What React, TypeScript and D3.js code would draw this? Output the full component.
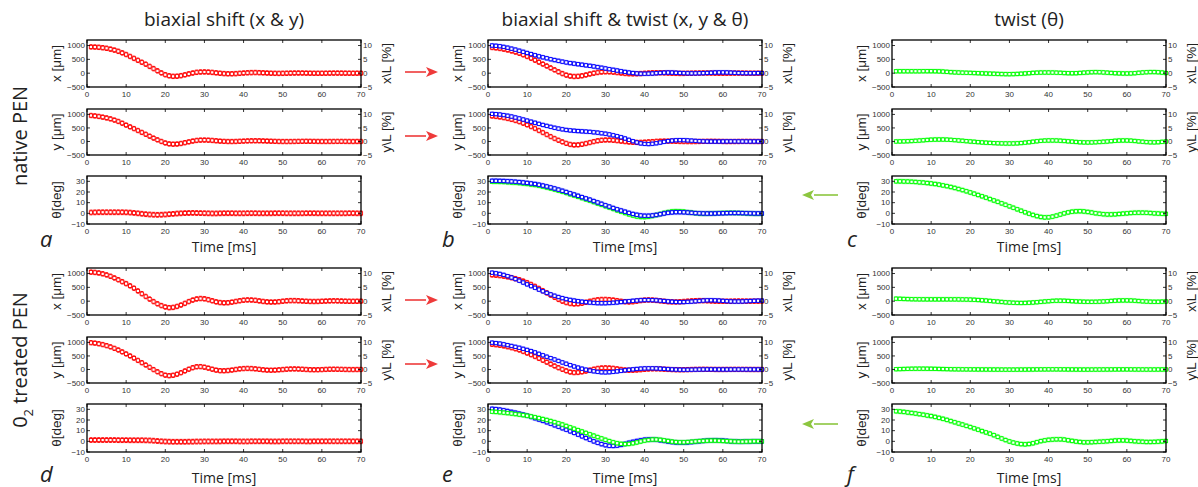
import React, { useEffect, useRef } from "react";
import * as d3 from "d3";

// sampling: one point per ms
const time = d3.range(1, 71);

// a: native PEN, biaxial shift
const aX = [950, 945, 935, 920, 900, 870, 835, 790, 735, 675, 605, 535, 465, 395, 325, 245, 165, 85, 10, -55, -95, -115, -110, -90, -60, -25, 5, 30, 42, 45, 40, 28, 12, -3, -15, -22, -22, -16, -6, 5, 14, 20, 22, 18, 12, 5, -2, -6, -8, -6, -2, 2, 5, 6, 5, 2, -1, -3, -4, -3, -1, 1, 3, 3, 2, 0, -1, -2, -1, 0];
const aY = [960, 945, 925, 900, 870, 835, 790, 740, 675, 605, 540, 475, 405, 335, 265, 195, 125, 60, 0, -55, -90, -100, -95, -75, -45, -15, 15, 38, 50, 52, 48, 38, 25, 12, 3, -2, -3, 0, 6, 14, 20, 24, 25, 24, 20, 15, 9, 4, 0, -2, -3, -2, 0, 3, 5, 6, 5, 3, 1, 0, -1, 0, 1, 2, 2, 1, 0, -1, 0, 0];
const aT = [0.8, 0.9, 1, 1, 1, 1, 1, 1, 1, 0.9, 0.7, 0.4, 0, -0.4, -0.8, -1.1, -1.3, -1.4, -1.3, -1.1, -0.8, -0.5, -0.2, 0, 0.2, 0.3, 0.4, 0.3, 0.2, 0.1, 0, -0.1, -0.1, 0, 0.1, 0.1, 0.1, 0, 0, 0, 0.1, 0.1, 0.1, 0, 0, 0, 0, 0.1, 0.1, 0.1, 0, 0, 0, 0, 0, 0.1, 0.1, 0.1, 0, 0, 0, 0, 0, 0, 0, 0, 0.1, 0.1, 0, 0];

// b: native PEN, shift & twist
const bXr = [930, 915, 895, 870, 840, 805, 765, 720, 665, 605, 540, 470, 400, 330, 260, 190, 120, 50, -15, -70, -105, -120, -115, -95, -65, -30, 0, 25, 42, 50, 48, 38, 22, 5, -10, -20, -24, -22, -15, -5, 5, 12, 15, 14, 10, 4, -2, -6, -8, -7, -4, 0, 4, 6, 7, 6, 3, 0, -2, -3, -2, 0, 2, 3, 2, 1, 0, -1, -1, 0];
const bXb = [1000, 990, 975, 950, 920, 885, 850, 810, 770, 730, 690, 650, 610, 575, 540, 505, 475, 445, 415, 390, 365, 345, 325, 305, 285, 265, 245, 220, 195, 170, 145, 120, 95, 70, 45, 22, 5, -10, -18, -20, -17, -10, 0, 10, 18, 22, 20, 14, 6, 0, -4, -6, -5, -2, 2, 8, 15, 22, 26, 27, 24, 18, 12, 6, 2, 0, -1, 0, 2, 3];
const bYr = [940, 925, 905, 880, 850, 815, 775, 730, 675, 615, 550, 480, 405, 330, 255, 180, 110, 45, -15, -70, -110, -130, -125, -105, -75, -40, -5, 25, 45, 55, 55, 45, 30, 12, -5, -20, -30, -35, -33, -25, -15, -5, 5, 12, 15, 14, 10, 5, 0, -3, -5, -5, -3, 0, 3, 5, 6, 5, 3, 0, -2, -3, -2, 0, 2, 2, 1, 0, -1, 0];
const bYb = [1020, 1010, 995, 975, 950, 920, 885, 850, 810, 770, 730, 690, 650, 610, 575, 540, 505, 475, 450, 425, 410, 395, 385, 375, 365, 355, 340, 325, 305, 285, 260, 230, 195, 155, 110, 60, 10, -35, -70, -90, -95, -85, -65, -40, -12, 12, 32, 45, 50, 48, 40, 30, 20, 10, 4, 0, -2, -3, -2, 0, 1, 2, 2, 1, 0, -1, -1, 0, 0, 0];
const bTg = [29.6, 29.6, 29.5, 29.4, 29.2, 29, 28.7, 28.4, 28, 27.6, 27.1, 26.6, 25.9, 25.1, 24.3, 23.4, 22.4, 21.3, 20.2, 19.1, 17.9, 16.7, 15.5, 14.3, 13.1, 11.9, 10.6, 9.3, 8, 6.7, 5.4, 4.1, 2.8, 1.5, 0.3, -0.9, -2, -2.9, -3.4, -3.5, -3.2, -2.5, -1.6, -0.6, 0.4, 1.2, 1.8, 2, 1.9, 1.6, 1.1, 0.6, 0.2, -0.1, -0.3, -0.3, -0.2, 0, 0.2, 0.3, 0.4, 0.4, 0.4, 0.3, 0.2, 0, -0.2, -0.3, -0.3, -0.3];
const bTb = [30.5, 30.5, 30.4, 30.3, 30.1, 29.9, 29.6, 29.3, 28.9, 28.5, 28, 27.5, 26.8, 26, 25.2, 24.3, 23.3, 22.2, 21.1, 20, 18.8, 17.6, 16.4, 15.2, 14, 12.8, 11.5, 10.2, 8.9, 7.6, 6.3, 5, 3.8, 2.6, 1.5, 0.4, -0.6, -1.4, -2, -2.3, -2.3, -2, -1.5, -0.8, -0.1, 0.5, 0.9, 1.1, 1.1, 1, 0.8, 0.5, 0.2, 0, -0.1, -0.2, -0.2, -0.1, 0, 0.1, 0.2, 0.3, 0.3, 0.3, 0.2, 0.1, 0, -0.1, -0.1, -0.1];

// c: native PEN, twist
const cX = [70, 70, 70, 70, 70, 70, 70, 72, 72, 72, 70, 66, 58, 48, 38, 30, 24, 18, 14, 10, 5, 0, -6, -12, -17, -22, -27, -31, -34, -35, -33, -28, -20, -10, 0, 10, 17, 22, 24, 24, 22, 18, 12, 5, 0, -2, 0, 8, 18, 28, 35, 38, 35, 28, 18, 8, 0, -6, -10, -11, -8, 0, 12, 25, 35, 40, 40, 35, 22, 5];
const cY = [0, 2, 5, 10, 16, 24, 34, 45, 56, 65, 70, 72, 72, 68, 60, 50, 38, 25, 12, 0, -12, -24, -35, -45, -53, -60, -66, -70, -73, -74, -73, -68, -58, -44, -28, -10, 8, 22, 32, 37, 38, 35, 28, 18, 6, -6, -18, -28, -34, -36, -34, -28, -20, -10, 0, 12, 24, 33, 37, 36, 30, 18, 4, -10, -22, -30, -32, -26, -14, 0];
const cT = [30, 30, 29.9, 29.8, 29.6, 29.4, 29.1, 28.8, 28.4, 28, 27.5, 26.9, 26.2, 25.5, 24.7, 23.8, 22.8, 21.8, 20.7, 19.6, 18.4, 17.2, 16, 14.7, 13.4, 12.1, 10.8, 9.4, 8, 6.6, 5.2, 3.8, 2.4, 1, -0.3, -1.5, -2.6, -3.4, -3.8, -3.7, -3.1, -2.2, -1.1, 0, 0.9, 1.5, 1.9, 2, 1.8, 1.3, 0.7, 0.1, -0.4, -0.8, -1, -1, -0.9, -0.6, -0.3, 0, 0.3, 0.5, 0.6, 0.6, 0.5, 0.3, 0, -0.2, -0.4, -0.5];

// d: O2 treated PEN, biaxial shift
const dX = [1050, 1040, 1020, 990, 950, 900, 840, 775, 705, 635, 555, 470, 370, 270, 170, 75, -15, -95, -160, -210, -235, -225, -190, -140, -80, -15, 40, 80, 95, 85, 55, 15, -25, -50, -60, -55, -35, -10, 15, 35, 45, 42, 30, 10, -10, -25, -32, -30, -18, -2, 12, 20, 20, 14, 5, -4, -10, -12, -10, -4, 3, 9, 12, 10, 5, 0, -4, -5, -3, 0];
const dY = [990, 975, 950, 920, 880, 835, 780, 720, 650, 575, 500, 420, 335, 250, 165, 80, -5, -85, -155, -210, -230, -215, -175, -120, -55, 10, 65, 100, 105, 85, 50, 10, -25, -45, -48, -40, -22, 0, 20, 33, 38, 34, 22, 5, -12, -24, -28, -24, -14, -2, 10, 18, 20, 16, 8, -1, -8, -11, -10, -5, 2, 8, 10, 8, 4, 0, -3, -4, -2, 0];
const dT = [1.2, 1.2, 1.2, 1.2, 1.2, 1.2, 1.2, 1.1, 1.1, 1.1, 1, 1, 1, 1, 0.9, 0.8, 0.6, 0.3, 0, -0.2, -0.3, -0.4, -0.4, -0.4, -0.4, -0.3, -0.3, -0.2, -0.2, -0.1, -0.1, -0.1, -0.1, -0.1, 0, 0, 0, 0, -0.1, -0.1, -0.1, 0, 0, 0, 0, 0, -0.1, -0.1, -0.1, 0, 0, 0, 0, 0, 0, -0.1, -0.1, 0, 0, 0, 0, 0, 0, 0, 0, 0, 0, 0, 0, 0];

// e: O2 treated PEN, shift & twist
const eXr = [950, 940, 925, 905, 880, 850, 815, 775, 725, 670, 605, 535, 460, 380, 300, 220, 140, 65, 0, -50, -85, -100, -95, -75, -40, -5, 25, 48, 60, 62, 55, 40, 18, -5, -22, -28, -20, 0, 22, 38, 44, 40, 28, 12, -5, -18, -26, -28, -22, -12, 0, 10, 17, 20, 18, 13, 6, 0, -4, -5, -3, 0, 3, 5, 4, 2, 0, -1, -1, 0];
const eXb = [1030, 1010, 985, 950, 905, 855, 800, 740, 675, 610, 545, 485, 420, 360, 300, 245, 195, 150, 110, 75, 45, 20, 0, -20, -35, -50, -62, -70, -73, -72, -66, -56, -44, -30, -15, -2, 12, 24, 34, 40, 42, 38, 30, 18, 5, -8, -20, -28, -32, -30, -24, -14, -2, 10, 22, 30, 32, 28, 20, 10, 0, -8, -12, -12, -8, -2, 5, 12, 16, 18];
const eYr = [930, 915, 895, 870, 840, 805, 765, 720, 665, 605, 545, 480, 410, 340, 270, 200, 130, 65, 5, -50, -95, -115, -110, -90, -60, -25, 10, 38, 55, 60, 55, 42, 22, 0, -18, -28, -28, -20, -8, 5, 16, 22, 22, 18, 10, 2, -5, -10, -12, -10, -6, -2, 2, 5, 6, 5, 3, 1, 0, 0, 1, 2, 3, 3, 2, 1, 0, -1, -1, 0];
const eYb = [990, 975, 955, 930, 900, 868, 835, 800, 762, 722, 680, 630, 578, 525, 470, 420, 370, 315, 260, 210, 160, 112, 68, 28, -8, -40, -66, -88, -102, -106, -100, -88, -70, -50, -30, -12, 4, 18, 30, 38, 42, 42, 38, 30, 20, 10, 2, -4, -8, -10, -9, -7, -4, -1, 1, 2, 2, 1, 0, -1, -1, 0, 1, 1, 1, 0, 0, 0, 0, 0];
const eTb = [30.5, 30.2, 29.7, 29.1, 28.4, 27.6, 26.8, 25.9, 25, 24, 22.9, 21.7, 20.5, 19.2, 17.9, 16.5, 15.1, 13.7, 12.3, 10.9, 9.4, 7.9, 6.3, 4.7, 3.1, 1.5, 0, -1.4, -2.6, -3.6, -4.2, -4.3, -4, -3.3, -2.4, -1.4, -0.5, 0.3, 1, 1.5, 1.8, 1.8, 1.5, 1, 0.4, -0.2, -0.7, -1, -1.2, -1.2, -1, -0.7, -0.3, 0.1, 0.4, 0.7, 0.9, 1, 0.9, 0.7, 0.4, 0.1, -0.2, -0.3, -0.3, -0.2, -0.1, 0, 0, 0];
const eTg = [27.8, 27.6, 27.3, 26.9, 26.5, 26.1, 25.6, 25.1, 24.6, 24, 23.3, 22.6, 21.8, 20.9, 20, 19, 18, 16.9, 15.7, 14.4, 13.1, 11.8, 10.5, 9.2, 7.9, 6.6, 5.3, 4, 2.7, 1.4, 0.2, -0.9, -1.8, -2.4, -2.6, -2.4, -1.8, -1, -0.1, 0.7, 1.3, 1.7, 1.7, 1.4, 0.9, 0.3, -0.3, -0.7, -0.9, -0.9, -0.7, -0.4, -0.1, 0.2, 0.4, 0.6, 0.7, 0.7, 0.6, 0.4, 0.2, 0, -0.2, -0.3, -0.3, -0.2, -0.1, 0, 0, 0];

// f: O2 treated PEN, twist
const fX = [90, 85, 80, 76, 72, 70, 68, 67, 66, 66, 66, 66, 66, 66, 66, 66, 65, 63, 60, 56, 50, 42, 33, 22, 10, -3, -16, -28, -40, -50, -58, -63, -65, -63, -57, -48, -37, -25, -12, 0, 10, 16, 17, 14, 8, 0, -8, -15, -20, -23, -24, -22, -17, -10, -1, 9, 18, 25, 28, 28, 24, 16, 6, -5, -14, -20, -23, -22, -17, -10];
const fY = [10, 14, 18, 22, 25, 27, 28, 28, 27, 25, 22, 19, 16, 13, 10, 8, 6, 5, 4, 3, 2, 1, 0, -1, -2, -3, -4, -5, -6, -6, -6, -5, -4, -3, -1, 0, 2, 3, 4, 5, 5, 5, 4, 3, 1, 0, -2, -3, -4, -4, -4, -3, -2, -1, 0, 1, 2, 3, 3, 3, 2, 1, 0, -1, -2, -2, -2, -1, 0, 1];
const fT = [28.2, 28, 27.6, 27.1, 26.6, 26.1, 25.5, 24.9, 24.3, 23.7, 22.9, 22, 21.1, 20.1, 19, 17.9, 16.8, 15.7, 14.5, 13.4, 12.2, 10.9, 9.6, 8.4, 7.2, 5.8, 4.2, 2.7, 1.2, -0.1, -1.2, -2, -2.6, -2.8, -2.5, -1.8, -0.8, 0.2, 0.9, 1.4, 1.7, 1.9, 1.9, 1.6, 1, 0.4, -0.2, -0.6, -0.9, -0.9, -0.8, -0.6, -0.4, -0.2, 0.1, 0.4, 0.7, 0.9, 0.9, 0.7, 0.4, 0.1, -0.2, -0.4, -0.6, -0.6, -0.5, -0.3, 0, 0.3];

const titles = ["biaxial shift (x & y)", "biaxial shift & twist (x, y & θ)", "twist (θ)"];
const timeTicks = [0, 10, 20, 30, 40, 50, 60, 70];
const posTicks = [-500, 0, 500, 1000];
const pctTicks = [-5, 0, 5, 10];
const angTicks = [-10, 0, 10, 20, 30];

const RED = "#ff0000";
const BLUE = "#0000ff";
const GREEN = "#00ff00";

const s = (v, c) => ({ v, c });
const panels = [
  { letter: "a", col: 0, grp: 0, rows: [[s(aX, RED)], [s(aY, RED)], [s(aT, RED)]] },
  { letter: "b", col: 1, grp: 0, rows: [[s(bXr, RED), s(bXb, BLUE)], [s(bYr, RED), s(bYb, BLUE)], [s(bTg, GREEN), s(bTb, BLUE)]] },
  { letter: "c", col: 2, grp: 0, rows: [[s(cX, GREEN)], [s(cY, GREEN)], [s(cT, GREEN)]] },
  { letter: "d", col: 0, grp: 1, rows: [[s(dX, RED)], [s(dY, RED)], [s(dT, RED)]] },
  { letter: "e", col: 1, grp: 1, rows: [[s(eXr, RED), s(eXb, BLUE)], [s(eYr, RED), s(eYb, BLUE)], [s(eTb, BLUE), s(eTg, GREEN)]] },
  { letter: "f", col: 2, grp: 1, rows: [[s(fX, GREEN)], [s(fY, GREEN)], [s(fT, GREEN)]] },
];

const App = () => {
  const ref = useRef(null);

  useEffect(() => {
    const W = 1198, H = 487;
    const colLeft = [87, 488, 892];
    const plotW = 274;
    const rowTop = [40, 109, 176];
    const rowH = [47, 46, 48];
    const grpOff = 228;
    const tickFont = "'Liberation Sans', Arial, sans-serif";
    const textFont = "'Open Sans', sans-serif";

    const svg = d3.select(ref.current).attr("width", W).attr("height", H);
    svg.selectAll("*").remove();
    svg.append("rect").attr("width", W).attr("height", H).attr("fill", "white");

    const x = d3.scaleLinear().domain([0, 70]).range([0, plotW]);

    // column titles
    titles.forEach((t, i) => {
      svg.append("text")
        .attr("x", colLeft[i] + plotW / 2)
        .attr("y", 26)
        .attr("text-anchor", "middle")
        .attr("font-family", textFont)
        .attr("font-size", 19)
        .attr("fill", "#222")
        .text(t);
    });

    // row labels
    const rowLab = svg.append("g");
    rowLab.append("text")
      .attr("transform", "translate(27,136) rotate(-90)")
      .attr("text-anchor", "middle")
      .attr("font-family", textFont)
      .attr("font-size", 20)
      .attr("fill", "#222")
      .text("native PEN");
    const o2 = rowLab.append("text")
      .attr("transform", "translate(27,360) rotate(-90)")
      .attr("text-anchor", "middle")
      .attr("font-family", textFont)
      .attr("font-size", 20)
      .attr("fill", "#222");
    o2.append("tspan").text("0");
    o2.append("tspan").attr("font-size", 13).attr("dy", 6).text("2");
    o2.append("tspan").attr("dy", -6).text(" treated PEN");

    panels.forEach((p) => {
      const left = colLeft[p.col];
      const off = p.grp * grpOff;

      p.rows.forEach((series, r) => {
        const top = rowTop[r] + off;
        const h = rowH[r];
        const isAng = r === 2;
        const y = isAng
          ? d3.scaleLinear().domain([-10, 35]).range([h, 0])
          : d3.scaleLinear().domain([-500, 1200]).range([h, 0]);
        const yR = d3.scaleLinear().domain([-5, 12]).range([h, 0]);
        const err = isAng ? 2.2 : 80;
        const band = isAng ? 2.8 : 100;

        const g = svg.append("g").attr("transform", `translate(${left},${top})`);

        // shaded std bands
        series.forEach((sr) => {
          const area = d3.area()
            .x((d, i) => x(time[i]))
            .y0((d) => y(d - band))
            .y1((d) => y(d + band))
            .curve(d3.curveMonotoneX);
          g.append("path").attr("d", area(sr.v)).attr("fill", sr.c).attr("opacity", 0.2);
        });

        // error bars + square markers
        series.forEach((sr) => {
          const e = sr.c === RED ? err : err * 0.75;
          const m = g.append("g").attr("stroke", sr.c).attr("stroke-width", 0.9);
          sr.v.forEach((d, i) => {
            const cx = x(time[i]);
            const y0 = y(d - e), y1 = y(d + e);
            m.append("line").attr("x1", cx).attr("x2", cx).attr("y1", y0).attr("y2", y1);
            m.append("line").attr("x1", cx - 1.4).attr("x2", cx + 1.4).attr("y1", y0).attr("y2", y0);
            m.append("line").attr("x1", cx - 1.4).attr("x2", cx + 1.4).attr("y1", y1).attr("y2", y1);
            m.append("rect").attr("x", cx - 1.6).attr("y", y(d) - 1.6).attr("width", 3.2).attr("height", 3.2)
              .attr("fill", "#fff");
          });
        });

        // box
        g.append("rect").attr("width", plotW).attr("height", h)
          .attr("fill", "none").attr("stroke", "#000").attr("stroke-width", 1.3);

        const ticks = g.append("g").attr("stroke", "#000").attr("stroke-width", 0.8);
        timeTicks.forEach((t) => {
          ticks.append("line").attr("x1", x(t)).attr("x2", x(t)).attr("y1", h).attr("y2", h - 3);
          ticks.append("line").attr("x1", x(t)).attr("x2", x(t)).attr("y1", 0).attr("y2", 3);
          g.append("text")
            .attr("x", x(t)).attr("y", h + 9.5)
            .attr("text-anchor", "middle")
            .attr("font-family", tickFont).attr("font-size", 8).attr("fill", "#333")
            .text(t);
        });

        const lt = isAng ? angTicks : posTicks;
        lt.forEach((v) => {
          ticks.append("line").attr("x1", 0).attr("x2", 3).attr("y1", y(v)).attr("y2", y(v));
          if (isAng) ticks.append("line").attr("x1", plotW).attr("x2", plotW - 3).attr("y1", y(v)).attr("y2", y(v));
          g.append("text")
            .attr("x", -2).attr("y", y(v) + 2.8)
            .attr("text-anchor", "end")
            .attr("font-family", tickFont).attr("font-size", 8).attr("fill", "#333")
            .text(v < 0 ? `−${-v}` : v);
        });

        const label = ["x [μm]", "y [μm]", "θ[deg]"][r];
        g.append("text")
          .attr("transform", `translate(-31,${h / 2}) rotate(-90)`)
          .attr("text-anchor", "middle")
          .attr("dy", "0.35em")
          .attr("font-family", tickFont).attr("font-size", 13.5).attr("fill", "#222")
          .text(label);

        if (!isAng) {
          pctTicks.forEach((v) => {
            ticks.append("line").attr("x1", plotW).attr("x2", plotW - 3).attr("y1", yR(v)).attr("y2", yR(v));
            g.append("text")
              .attr("x", plotW + 2).attr("y", yR(v) + 2.8)
              .attr("font-family", tickFont).attr("font-size", 8).attr("fill", "#333")
              .text(v < 0 ? `−${-v}` : v);
          });
          g.append("text")
            .attr("transform", `translate(${plotW + 25},${h / 2}) rotate(-90)`)
            .attr("text-anchor", "middle")
            .attr("dy", "0.35em")
            .attr("font-family", tickFont).attr("font-size", 13.5).attr("fill", "#222")
            .text(r === 0 ? "x\\L [%]" : "y\\L [%]");
        }
      });

      // time label + panel letter
      svg.append("text")
        .attr("x", left + plotW / 2).attr("y", 252 + p.grp * 231)
        .attr("text-anchor", "middle")
        .attr("font-family", textFont).attr("font-size", 14).attr("fill", "#222")
        .text("Time [ms]");
      svg.append("text")
        .attr("x", [40, 442, 847][p.col]).attr("y", 247 + p.grp * 235)
        .attr("font-family", textFont).attr("font-style", "italic")
        .attr("font-size", 22).attr("fill", "#222")
        .text(p.letter);
    });

    // arrows
    const arrow = (x1, x2, yy, color) => {
      const dir = Math.sign(x2 - x1);
      const hx = x2 - dir * 12;
      svg.append("line").attr("x1", x1).attr("x2", hx).attr("y1", yy).attr("y2", yy)
        .attr("stroke", color).attr("stroke-width", 1.6);
      svg.append("path")
        .attr("d", `M${x2},${yy} L${hx},${yy - 5} L${hx + dir * 3},${yy} L${hx},${yy + 5} Z`)
        .attr("fill", color);
    };
    [72, 136, 300, 364].forEach((yy) => arrow(405, 438, yy, "#ee3a3a"));
    [195, 424].forEach((yy) => arrow(838, 802, yy, "#8cc63f"));
  }, []);

  return (
    <div style={{ position: "absolute", left: 0, top: 0 }}>
      <svg ref={ref}></svg>
    </div>
  );
};

export default App;
